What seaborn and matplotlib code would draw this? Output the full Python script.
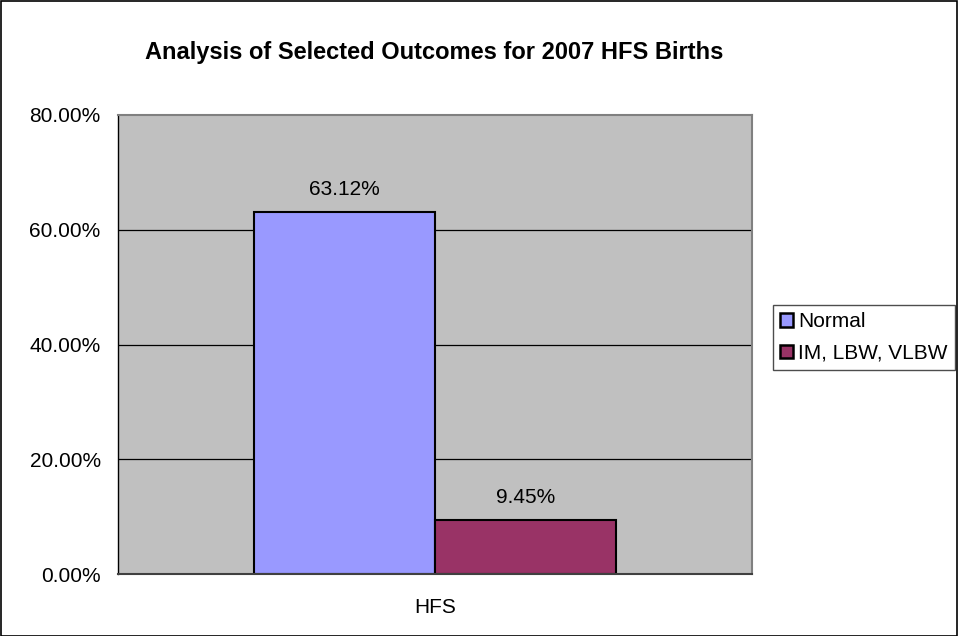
import matplotlib
matplotlib.use("Agg")
import matplotlib.pyplot as plt
import seaborn as sns
import pandas as pd
from matplotlib.ticker import FixedLocator

categories = ["HFS", "HFS"]
series = ["Normal", "IM, LBW, VLBW"]
values = [63.12, 9.45]
yticks = [0, 20, 40, 60, 80]
colors = ["#9999FF", "#993366"]

df = pd.DataFrame({"cat": categories, "series": series, "value": values})

sns.set_style("white")
plt.rcParams["font.family"] = ["Liberation Sans", "DejaVu Sans"]
plt.rcParams["text.color"] = "black"
plt.rcParams["xtick.color"] = "black"
plt.rcParams["ytick.color"] = "black"
plt.rcParams["axes.labelcolor"] = "black"

FS = 15

fig = plt.figure(figsize=(9.58, 6.36), dpi=100)
ax = fig.add_axes([118/958, 1 - 574/636, (752-118)/958, (574-115)/636])
ax.set_facecolor("#C0C0C0")

sns.barplot(data=df, x="cat", y="value", hue="series", palette=colors,
            width=0.571, edgecolor="black", linewidth=1.5, ax=ax, legend=True,
            saturation=1)

ax.set_xlim(-0.5, 0.5)
ax.set_ylim(0, 80)
ax.set_yticks(yticks)
ax.set_yticklabels([f"{v:.2f}%" for v in yticks], fontsize=FS)
for v in yticks[1:-1]:
    ax.axhline(v, color="black", linewidth=0.9, zorder=0.5)
ax.set_axisbelow(True)

ax.set_xlabel("")
ax.set_ylabel("")
ax.tick_params(axis="x", which="major", length=0, labelsize=FS, pad=17)
ax.xaxis.set_minor_locator(FixedLocator([-0.5, 0.5]))
ax.tick_params(axis="x", which="minor", length=5, width=1, color="black", direction="out")
ax.tick_params(axis="y", length=4.5, width=1, color="black", direction="out", pad=8)

for s in ["top", "right"]:
    ax.spines[s].set_color("#808080")
    ax.spines[s].set_linewidth(1.5)
ax.spines["left"].set_color("black")
ax.spines["left"].set_linewidth(1)
ax.spines["bottom"].set_color("#404040")
ax.spines["bottom"].set_linewidth(1.5)

for cont in ax.containers:
    ax.bar_label(cont, labels=[f"{v:.2f}%" for v in cont.datavalues],
                 padding=9, fontsize=FS, color="black")

fig.suptitle("Analysis of Selected Outcomes for 2007 HFS Births",
             x=434/958, y=1 - 52/636, va="center", fontsize=17, fontweight="bold",
             color="black")

leg = ax.legend(loc="upper left", bbox_to_anchor=(773/958, 1 - 305/636),
                bbox_transform=fig.transFigure, frameon=True, fontsize=FS,
                handlelength=0.6, handleheight=0.6, handletextpad=0.25,
                borderpad=0.35, labelspacing=0.6, fancybox=False, borderaxespad=0)
leg.get_frame().set_edgecolor("#202020")
leg.get_frame().set_linewidth(1)
for h in leg.legend_handles:
    h.set_edgecolor("black")
    h.set_linewidth(1.8)

fig.patches.append(plt.Rectangle((0.5/958, 0.5/636), 1 - 1.5/958, 1 - 1.5/636,
                                 transform=fig.transFigure, fill=False,
                                 edgecolor="black", linewidth=1.2))

fig.savefig("out.png", dpi=100)
